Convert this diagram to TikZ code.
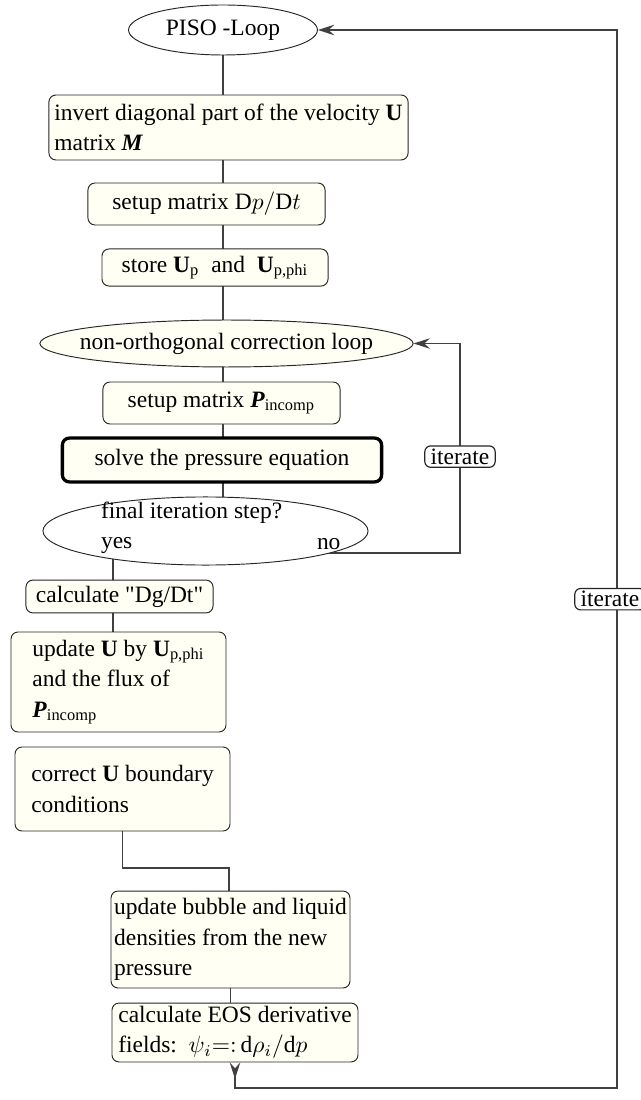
\documentclass[tikz,border=0pt]{standalone}
\usepackage{amsmath}
\usepackage{fontspec}
\setmainfont{Liberation Serif}
\usepackage{tikz}
\usetikzlibrary{shapes.geometric,arrows.meta,backgrounds}
\definecolor{boxfill}{RGB}{255,255,244}
\tikzset{
  proc/.style={rectangle, draw=black!85, fill=boxfill, rounded corners=3pt, inner xsep=1.7pt, inner ysep=1pt, align=center, font=\fontsize{10}{13}\selectfont},
  loopnode/.style={ellipse, draw=black!85, inner sep=0pt, font=\fontsize{10}{13}\selectfont},
  lbl/.style={rectangle, draw=black!85, fill=white, rounded corners=2.5pt, inner xsep=2.5pt, inner ysep=1.2pt, font=\fontsize{10}{12}\selectfont},
  link/.style={draw=black!75, line width=0.5pt},
  back/.style={link, -{Stealth[length=7pt,width=4.5pt,inset=2.5pt]}}
}

\begin{document}
\begin{tikzpicture}[x=0.426pt, y=-0.426pt]
  \useasboundingbox (0,0) rectangle (640,1100);

  % PISO loop head
  \node[loopnode, fill=white, minimum width=80.5pt, minimum height=21.3pt] (piso) at (223,30) {\makebox[0pt]{PISO -Loop}};
  \node[proc, align=left, minimum width=153pt, minimum height=27.7pt] (invert) at (228.5,127.5)
    {invert diagonal part of the velocity \textbf{U}\\matrix \textbf{\textit{M}}};
  \node[proc, minimum width=101pt, minimum height=17.9pt] (setupD) at (206.5,204) {setup matrix $\mathrm{D}p/\mathrm{D}t$};
  \node[proc, minimum width=96.3pt, minimum height=15.8pt] (store) at (215,267.5)
    {store $\textbf{U}_{\text{p}}$\ \ and\ \ $\textbf{U}_{\text{p,phi}}$};

  % non-orthogonal correction loop
  \node[loopnode, fill=boxfill, minimum width=159pt, minimum height=20pt] (nonorth) at (226.5,343.5)
    {\makebox[0pt]{non-orthogonal correction loop}};
  \node[proc, minimum width=101pt, minimum height=17.9pt] (setupP) at (221.5,403)
    {setup matrix $\textbf{\textit{P}}_{\text{incomp}}$};
  \node[proc, line width=1.4pt, draw=black, minimum width=136pt, minimum height=18.7pt] (solve) at (222,460)
    {solve the pressure equation};
  \node[loopnode, fill=white, minimum width=138.5pt, minimum height=29pt] (decide) at (205.5,531)
    {\makebox[0pt]{\hspace*{13pt}\smash{\raisebox{5.5pt}{\parbox[t]{102pt}{final iteration step?\\\makebox[102pt]{yes\hfill\raisebox{-0.5pt}{no}}}}}}};

  % after the loop
  \node[proc, minimum width=79.7pt, minimum height=14pt] (calcDg) at (119.5,596.5) {calculate \textquotedbl Dg/Dt\textquotedbl};
  \node[proc, align=left, minimum width=91.6pt, minimum height=42.6pt] (updateU) at (118.5,682)
    {update \textbf{U} by $\textbf{U}_{\text{p,phi}}$\\and the flux of\\$\textbf{\textit{P}}_{\text{incomp}}$};
  \node[proc, align=left, minimum width=91.6pt, minimum height=35.8pt] (correct) at (122.5,789)
    {correct \textbf{U} boundary\\conditions};
  \node[proc, align=left, inner xsep=1pt, minimum width=101.8pt, minimum height=41.3pt] (bubble) at (230.5,939.5)
    {update bubble and liquid\\densities from the new\\pressure};
  \node[proc, align=left, minimum width=104.8pt, minimum height=25.1pt] (eos) at (235,1032.5)
    {calculate EOS derivative\\fields:\ \ $\psi_i{=}{:}\,\mathrm{d}\rho_i/\mathrm{d}p$};

  % corner points of the connectors
  \coordinate (yesx) at (113,560);
  \coordinate (bend) at (229,868);
  \coordinate (inner) at (460,553);
  \coordinate (outer) at (617,1088);

  \begin{scope}[on background layer]
    \foreach \a/\b in {piso/invert, invert/setupD, setupD/store, store/nonorth,
                       nonorth/setupP, setupP/solve, solve/decide}{
      \draw[link] (\a -| piso) -- (\b -| piso);
    }
    \draw[link] (decide -| yesx) -- (calcDg -| yesx);
    \draw[link] (calcDg -| yesx) -- (updateU -| yesx);
    \draw[link] (correct.south) |- (bend) -- (bend |- bubble.north);
    \draw[link] (bubble) -- (bubble |- eos);

    % loops back
    \draw[back] (inner -| decide) -- (inner) |- node[lbl, pos=0.23] {iterate} (nonorth.east);
    \draw[back, {Stealth[length=7pt,width=4.5pt,inset=2.5pt,reversed]}-{Stealth[length=7pt,width=4.5pt,inset=2.5pt]}]
      (eos.south) |- (outer) |- node[lbl, pos=0.231, xshift=-3pt] {iterate} (piso.east);
  \end{scope}
\end{tikzpicture}
\end{document}
